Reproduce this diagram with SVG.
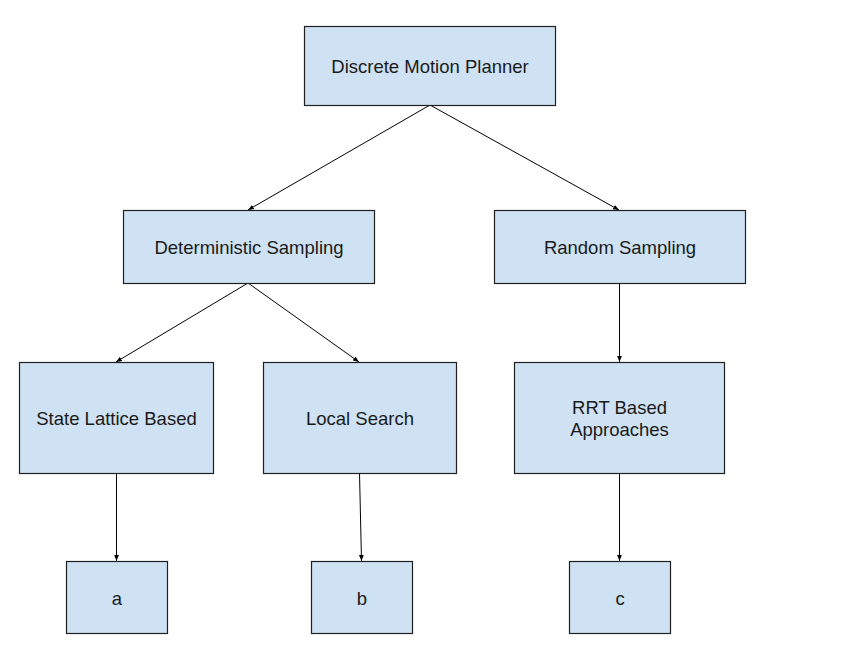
<svg xmlns="http://www.w3.org/2000/svg" width="864" height="670" viewBox="0 0 864 670">
<style>
.box{fill:#cfe2f3;stroke:#1f1f1f;stroke-width:1.2}
.lbl{font-family:"Liberation Sans",Arial,sans-serif;font-size:18.5px;fill:#1a1a1a;text-anchor:middle;dominant-baseline:central}
.conn{stroke:#000;stroke-width:1;fill:none;marker-end:url(#ah)}
</style>
<defs>
<marker id="ah" viewBox="0 0 10 10" refX="10" refY="5" markerWidth="6" markerHeight="6" markerUnits="userSpaceOnUse" orient="auto">
<path d="M0,1 L10,5 L0,9 z" fill="#000"/>
</marker>
</defs>
<rect width="864" height="670" fill="#fff"/>
<g id="connectors">
<line class="conn" x1="430" y1="105" x2="248" y2="210"/>
<line class="conn" x1="430" y1="105" x2="619" y2="210"/>
<line class="conn" x1="248" y1="283" x2="116" y2="362"/>
<line class="conn" x1="248" y1="283" x2="359" y2="362"/>
<line class="conn" x1="619.5" y1="283" x2="619.5" y2="362"/>
<line class="conn" x1="116.5" y1="473" x2="116.5" y2="561"/>
<line class="conn" x1="359.5" y1="473" x2="361.5" y2="561"/>
<line class="conn" x1="619.5" y1="473" x2="619.5" y2="561"/>
</g>
<g id="n_dmp"><rect class="box" x="304.5" y="26.5" width="251" height="79"/><text class="lbl" x="430" y="66">Discrete Motion Planner</text></g>
<g id="n_det"><rect class="box" x="123.5" y="210.5" width="251" height="73"/><text class="lbl" x="249" y="247">Deterministic Sampling</text></g>
<g id="n_rand"><rect class="box" x="494.5" y="210.5" width="251" height="73"/><text class="lbl" x="620" y="247">Random Sampling</text></g>
<g id="n_sl"><rect class="box" x="19.5" y="362.5" width="194" height="111"/><text class="lbl" x="116.5" y="418">State Lattice Based</text></g>
<g id="n_ls"><rect class="box" x="263.5" y="362.5" width="193" height="111"/><text class="lbl" x="360" y="418">Local Search</text></g>
<g id="n_rrt"><rect class="box" x="514.5" y="362.5" width="210" height="111"/><text class="lbl" x="619.5" y="407">RRT Based</text><text class="lbl" x="619.5" y="429">Approaches</text></g>
<g id="n_a"><rect class="box" x="66.5" y="561.5" width="101" height="72"/><text class="lbl" x="117" y="598">a</text></g>
<g id="n_b"><rect class="box" x="311.5" y="561.5" width="101" height="72"/><text class="lbl" x="362" y="598">b</text></g>
<g id="n_c"><rect class="box" x="569.5" y="561.5" width="101" height="72"/><text class="lbl" x="620" y="598">c</text></g>
</svg>
